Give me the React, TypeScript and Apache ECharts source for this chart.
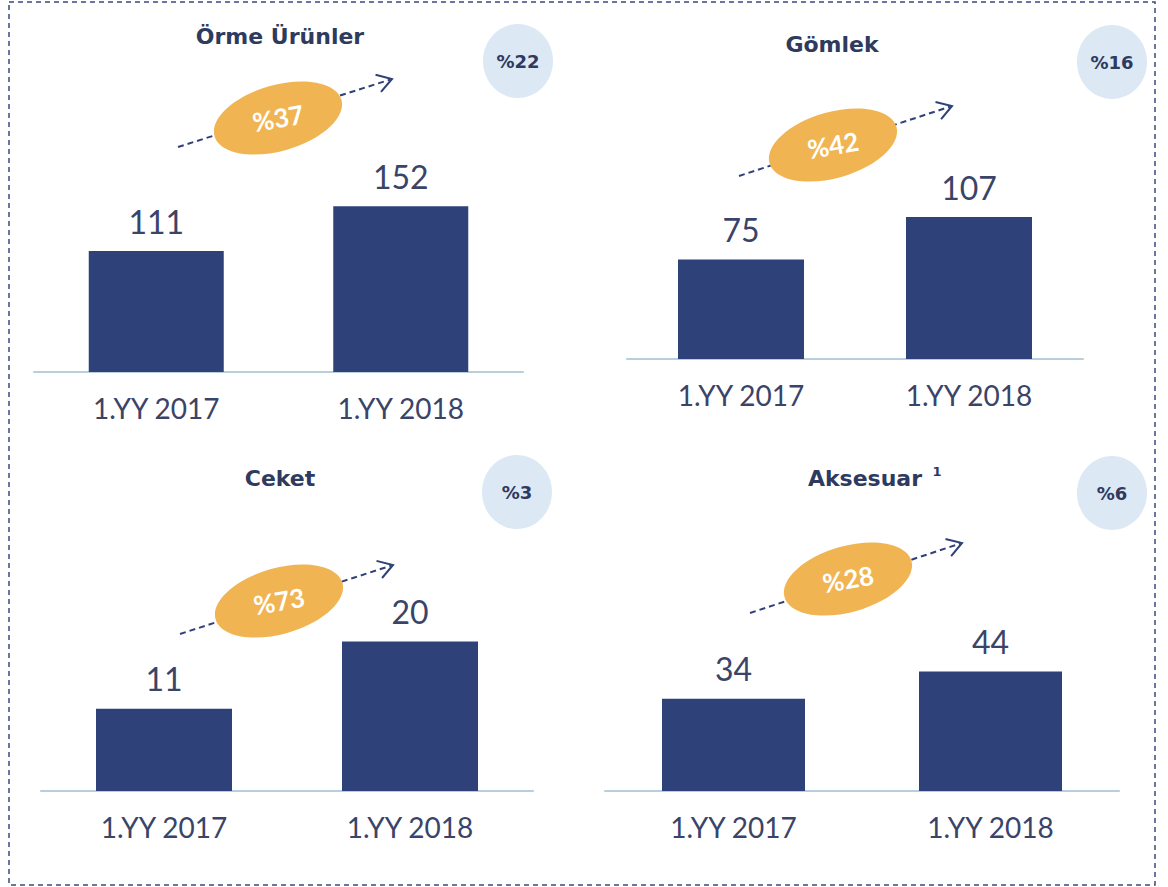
import React, { useEffect, useRef } from "react";
import * as echarts from "echarts";

const categories = ["1.YY 2017", "1.YY 2018"];
const ormeValues = [111, 152];
const gomlekValues = [75, 107];
const ceketValues = [11, 20];
const aksesuarValues = [34, 44];
const panelTitles = ["Örme Ürünler", "Gömlek", "Ceket", "Aksesuar"];
const growthLabels = ["%37", "%42", "%73", "%28"];
const shareLabels = ["%22", "%16", "%3", "%6"];
const footnoteMark = "1";

const seriesValues = [ormeValues, gomlekValues, ceketValues, aksesuarValues];

const FONT = "Lato, 'Open Sans', 'DejaVu Sans', sans-serif";
const TITLE_FONT = "'DejaVu Sans', Lato, sans-serif";
const NAVY = "#2f4179";
const TEXT = "#3a4468";
const TITLE = "#2e3a5e";
const ORANGE = "#f0b552";
const PALE = "#dde8f5";

const panels = [
  { grid: { left: 34, width: 489, top: 154, height: 218 }, max: 200, barWidth: 135, title: [280, 36], share: [518, 61], ell: [278, 118], arrow: [178, 147, 392, 79] },
  { grid: { left: 627, width: 456, top: 160, height: 199 }, max: 150, barWidth: 126, title: [832, 44], share: [1112, 62], ell: [833, 145], arrow: [739, 176, 952, 106] },
  { grid: { left: 41, width: 492, top: 604, height: 187 }, max: 25, barWidth: 136, title: [280, 478], share: [517, 492], ell: [279, 601], arrow: [180, 634, 393, 565] },
  { grid: { left: 605, width: 514, top: 628, height: 163 }, max: 60, barWidth: 143, title: [865, 478], share: [1112, 493], ell: [848, 579], arrow: [750, 613, 962, 543] },
];

function arrowElements(a: number[]) {
  const [x1, y1, x2, y2] = a;
  const dx = x2 - x1;
  const dy = y2 - y1;
  const len = Math.sqrt(dx * dx + dy * dy);
  const ux = dx / len;
  const uy = dy / len;
  const L = 17;
  const ang = (32 * Math.PI) / 180;
  const rot = (c: number, s: number) => [ux * c - uy * s, ux * s + uy * c];
  const [ax, ay] = rot(Math.cos(ang), Math.sin(ang));
  const [bx, by] = rot(Math.cos(-ang), Math.sin(-ang));
  return [
    {
      type: "line",
      shape: { x1, y1, x2: x2 - ux * 2, y2: y2 - uy * 2 },
      style: { stroke: NAVY, lineWidth: 2, lineDash: [6, 4] },
      z: 1,
    },
    {
      type: "polyline",
      shape: {
        points: [
          [x2 - ax * L, y2 - ay * L],
          [x2, y2],
          [x2 - bx * L, y2 - by * L],
        ],
      },
      style: { stroke: NAVY, lineWidth: 2, fill: null },
      z: 1,
    },
  ];
}

export default function App() {
  const ref = useRef<HTMLDivElement>(null);

  useEffect(() => {
    if (!ref.current) return;
    const chart = echarts.init(ref.current, null, { renderer: "svg" });

    const graphic: any[] = [
      {
        type: "rect",
        shape: { x: 9, y: 2, width: 1146, height: 883 },
        style: { fill: null, stroke: "#3b4a7c", lineWidth: 1.5, lineDash: [5, 4] },
        z: 0,
      },
    ];

    panels.forEach((p, i) => {
      graphic.push({
        type: "text",
        x: p.title[0],
        y: p.title[1],
        style: {
          text: panelTitles[i],
          fontSize: 22,
          fontWeight: "bold",
          fontFamily: TITLE_FONT,
          fill: TITLE,
          textAlign: "center",
          textVerticalAlign: "middle",
        },
        z: 5,
      });
      graphic.push({
        type: "ellipse",
        shape: { cx: p.share[0], cy: p.share[1], rx: 35, ry: 37 },
        style: { fill: PALE },
        z: 2,
      });
      graphic.push({
        type: "text",
        x: p.share[0],
        y: p.share[1],
        style: {
          text: shareLabels[i],
          fontSize: 18,
          fontWeight: "bold",
          fontFamily: TITLE_FONT,
          fill: TITLE,
          textAlign: "center",
          textVerticalAlign: "middle",
        },
        z: 5,
      });
      arrowElements(p.arrow).forEach((e) => graphic.push(e));
      graphic.push({
        type: "ellipse",
        x: p.ell[0],
        y: p.ell[1],
        rotation: (16 * Math.PI) / 180,
        shape: { cx: 0, cy: 0, rx: 66, ry: 33 },
        style: { fill: ORANGE },
        z: 3,
      });
      graphic.push({
        type: "text",
        x: p.ell[0],
        y: p.ell[1],
        rotation: (10 * Math.PI) / 180,
        style: {
          text: growthLabels[i],
          fontSize: 26,
          fontWeight: "bold",
          fontFamily: FONT,
          fill: "#ffffff",
          textAlign: "center",
          textVerticalAlign: "middle",
        },
        z: 5,
      });
    });

    graphic.push({
      type: "text",
      x: 937,
      y: 471,
      style: {
        text: footnoteMark,
        fontSize: 13,
        fontWeight: "bold",
        fontFamily: TITLE_FONT,
        fill: TITLE,
        textAlign: "center",
        textVerticalAlign: "middle",
      },
      z: 5,
    });

    chart.setOption({
      animation: false,
      backgroundColor: "#ffffff",
      grid: panels.map((p) => ({ ...p.grid, containLabel: false })),
      xAxis: panels.map((p, i) => ({
        type: "category",
        gridIndex: i,
        data: categories,
        axisLine: { show: true, lineStyle: { color: "#b9cedc", width: 2 } },
        axisTick: { show: false },
        axisLabel: { fontSize: 28, color: TEXT, margin: 22, fontFamily: FONT },
      })),
      yAxis: panels.map((p, i) => ({
        type: "value",
        gridIndex: i,
        min: 0,
        max: p.max,
        show: false,
        splitLine: { show: false },
      })),
      series: panels.map((p, i) => ({
        type: "bar",
        xAxisIndex: i,
        yAxisIndex: i,
        data: seriesValues[i],
        barWidth: p.barWidth,
        itemStyle: { color: NAVY },
        label: {
          show: true,
          position: "top",
          distance: 14,
          fontSize: 32,
          color: TEXT,
          fontFamily: FONT,
        },
      })),
      graphic,
    });

    return () => chart.dispose();
  }, []);

  return (
    <div
      ref={ref}
      style={{ position: "absolute", left: 0, top: 0, width: 1168, height: 887 }}
    />
  );
}
